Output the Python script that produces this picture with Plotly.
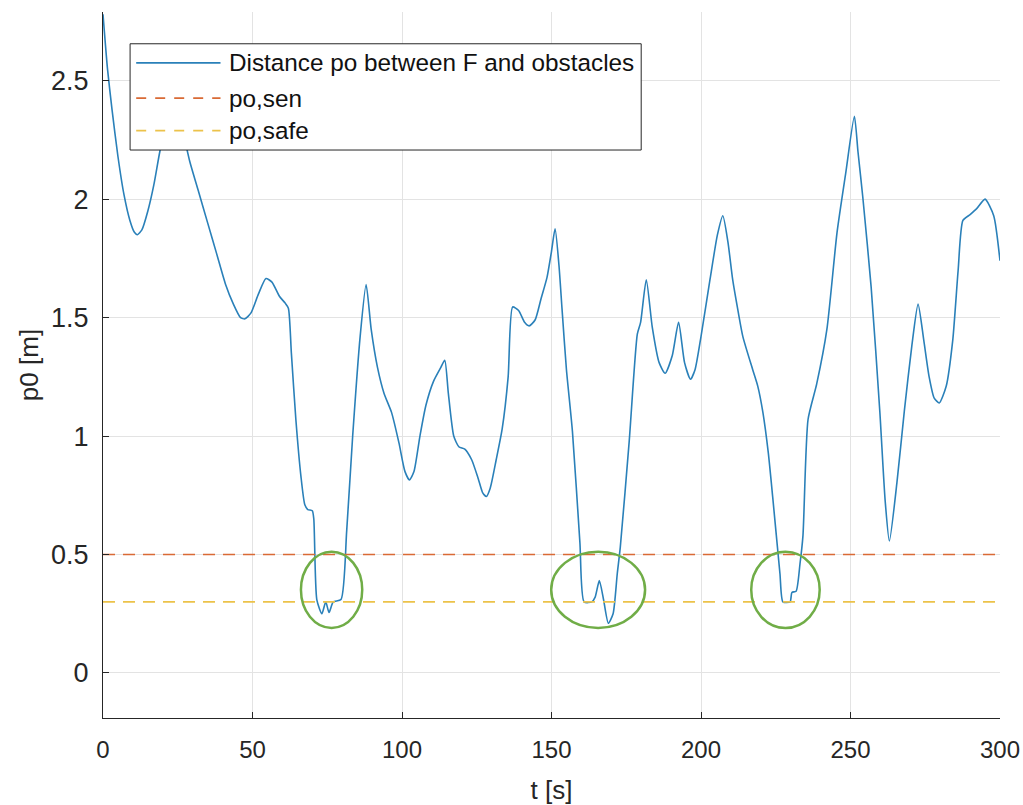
import plotly.graph_objects as go

# ---- data ----
t_s = [0, 1.5, 3, 5, 7, 9, 10.5, 11.5, 13, 15, 17, 19, 21, 23, 25, 27, 29, 32, 35, 38, 41, 43.5,
       46, 47.5, 49.5, 52, 54.5, 56.5, 59, 61, 62, 63, 64.5, 66.2, 67.5, 68.5, 70, 70.5, 71.5,
       73.2, 74.5, 75.6, 77, 79.6, 81.5, 83.5, 86, 88, 89.7, 91.8, 94, 96.5, 99, 101, 102.5,
       104, 106, 108, 110.5, 113, 114.3, 115.5, 117.3, 119, 121, 123.3, 125.5, 127, 128.2,
       129.5, 131.5, 133.5, 135.5, 137, 139, 141, 142.5, 144.5, 146.5, 148.5, 150, 151.2,
       152.5, 153.5, 155, 157, 159.5, 160.9, 163.5, 164.6, 166, 167.4, 169, 170.6, 172, 173,
       176, 178.7, 179.8, 181.7, 183.7, 186, 188, 190.4, 192.5, 194.5, 196.5, 198, 200, 203,
       205.5, 207.3, 209, 210.6, 212.5, 214, 217.3, 219, 220.7, 222.5, 224, 226.4, 227.4,
       229.8, 230.4, 231.8, 233.1, 234.1, 235.8, 238.7, 242.1, 245.5, 248.4, 251.3, 252.5,
       254.1, 256.9, 259.8, 261.6, 263, 265.5, 268, 270.5, 272.6, 274.5, 276.3, 278, 279.7,
       282, 284.2, 286, 287.6, 290, 292.2, 295, 297.9, 300]
p0_m = [2.78, 2.55, 2.38, 2.18, 2.02, 1.91, 1.86, 1.85, 1.87, 1.95, 2.06, 2.2, 2.31, 2.37, 2.36,
        2.27, 2.16, 2.03, 1.9, 1.77, 1.64, 1.56, 1.5, 1.495, 1.52, 1.6, 1.665, 1.65, 1.59, 1.56,
        1.54, 1.35, 1.07, 0.83, 0.71, 0.69, 0.685, 0.65, 0.31, 0.25, 0.30, 0.255, 0.30, 0.31,
        0.6, 1.0, 1.42, 1.64, 1.45, 1.29, 1.18, 1.1, 0.97, 0.85, 0.815, 0.85, 1.0, 1.13, 1.23,
        1.29, 1.32, 1.18, 1.0, 0.955, 0.945, 0.9, 0.82, 0.76, 0.745, 0.78, 0.9, 1.03, 1.25,
        1.545, 1.53, 1.48, 1.465, 1.49, 1.58, 1.67, 1.78, 1.875, 1.72, 1.54, 1.28, 1.02, 0.55,
        0.30, 0.30, 0.32, 0.39, 0.31, 0.21, 0.25, 0.42, 0.53, 0.98, 1.43, 1.48, 1.66, 1.46,
        1.31, 1.265, 1.34, 1.48, 1.31, 1.24, 1.28, 1.42, 1.66, 1.85, 1.93, 1.82, 1.66, 1.52,
        1.42, 1.28, 1.21, 1.10, 0.93, 0.74, 0.42, 0.30, 0.30, 0.34, 0.345, 0.46, 0.58, 1.07,
        1.22, 1.45, 1.86, 2.11, 2.35, 2.2, 2.01, 1.63, 1.105, 0.726, 0.557, 0.80, 1.105, 1.38,
        1.557, 1.405, 1.25, 1.16, 1.14, 1.21, 1.405, 1.7, 1.91, 1.935, 1.96, 2.0, 1.93, 1.74]

p_sen = 0.5
p_safe = 0.3
t_limits = [0, 300]

series_names = ["Distance po between F and obstacles", "po,sen", "po,safe"]
series_colors = ["#2a80b9", "#d96a35", "#ecc24a"]

x_ticks = [0, 50, 100, 150, 200, 250, 300]
y_ticks = [0, 0.5, 1, 1.5, 2, 2.5]
y_tick_text = ["0", "0.5", "1", "1.5", "2", "2.5"]

# highlighted regions (t0, t1, y0, y1)
highlight_regions = [(66.2, 86.7, 0.19, 0.512), (149.9, 181.3, 0.19, 0.512), (216.8, 239.7, 0.19, 0.512)]

FONT = "Liberation Sans, Arial, sans-serif"
TXT = "#262626"
DASH = "12px,8px"

fig = go.Figure()
fig.add_trace(go.Scatter(x=t_s, y=p0_m, mode="lines", name=series_names[0],
                         line=dict(color=series_colors[0], width=1.6, shape="spline", smoothing=0.6),
                         showlegend=False))
fig.add_trace(go.Scatter(x=t_limits, y=[p_sen, p_sen], mode="lines", name=series_names[1],
                         line=dict(color=series_colors[1], width=1.4, dash=DASH), showlegend=False))
fig.add_trace(go.Scatter(x=t_limits, y=[p_safe, p_safe], mode="lines", name=series_names[2],
                         line=dict(color=series_colors[2], width=1.6, dash=DASH), showlegend=False))

shapes = []
for (a, b, c, d) in highlight_regions:
    shapes.append(dict(type="circle", xref="x", yref="y", x0=a, x1=b, y0=c, y1=d,
                       line=dict(color="#70ad47", width=2.5), layer="above"))

# custom legend box (paper coordinates)
lx0, lx1, ly0, ly1 = 0.0302, 0.6, 0.8045, 0.955
shapes.append(dict(type="rect", xref="paper", yref="paper", x0=lx0, x1=lx1, y0=ly0, y1=ly1,
                   fillcolor="white", line=dict(color="#262626", width=1), layer="above"))
row_y = [0.928, 0.878, 0.832]
dashes = ["solid", "10px,9px", "10px,9px"]
annotations = []
for i, name in enumerate(series_names):
    shapes.append(dict(type="line", xref="paper", yref="paper", x0=0.037, x1=0.131,
                       y0=row_y[i], y1=row_y[i], layer="above",
                       line=dict(color=series_colors[i], width=1.6, dash=dashes[i])))
    annotations.append(dict(xref="paper", yref="paper", x=0.1385, y=row_y[i], text=name,
                            showarrow=False, xanchor="left", yanchor="middle",
                            font=dict(family=FONT, size=24.3, color="#111111")))

fig.update_layout(
    width=1023, height=805,
    margin=dict(l=103, r=23, t=12, b=87),
    paper_bgcolor="white", plot_bgcolor="white",
    font=dict(family=FONT, size=24, color=TXT),
    shapes=shapes, annotations=annotations,
    showlegend=False,
)
fig.update_xaxes(range=[0, 300], tickvals=x_ticks, showgrid=True, gridcolor="#e3e3e3", gridwidth=1,
                 showline=True, linecolor=TXT, linewidth=1.2, ticks="inside", ticklen=6,
                 tickcolor=TXT, zeroline=False, automargin=False, ticklabelstandoff=10,
                 title=dict(text="t [s]", standoff=18, font=dict(size=26, color=TXT)),
                 tickfont=dict(size=24, color=TXT))
fig.update_yaxes(range=[-0.19, 2.79], tickvals=y_ticks, ticktext=y_tick_text, showgrid=True,
                 gridcolor="#e3e3e3", gridwidth=1, showline=True, linecolor=TXT, linewidth=1.2,
                 ticks="inside", ticklen=6, tickcolor=TXT, zeroline=False, automargin=False,
                 ticklabelstandoff=8,
                 title=dict(text="p0 [m]", standoff=4, font=dict(size=26, color=TXT)),
                 tickfont=dict(size=27, color=TXT))

fig.write_html("out.html")
